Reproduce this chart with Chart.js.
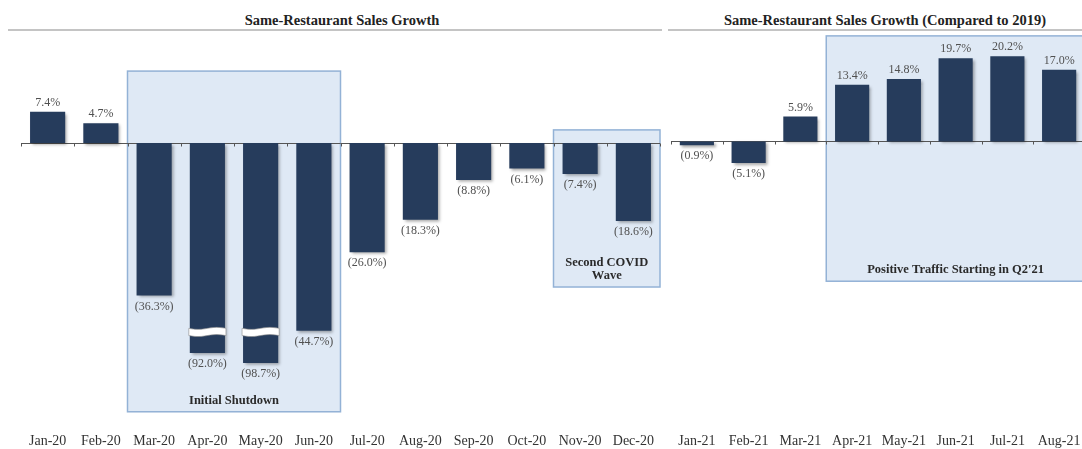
<!DOCTYPE html>
<html>
<head>
<meta charset="utf-8">
<script src="https://cdn.jsdelivr.net/npm/chart.js@4.4.1/dist/chart.umd.min.js"></script>
<style>
  html, body { margin: 0; padding: 0; background: #fff; overflow: hidden; }
  body { width: 1082px; height: 449px; position: relative; font-family: 'Liberation Serif', 'DejaVu Serif', serif; }
  .title { position: absolute; top: 12px; font-weight: bold; font-size: 14.5px; color: #222; white-space: nowrap; text-align: center; }
  .rule { position: absolute; top: 29px; height: 2px; background: #c4c4c4; }
  .wrap { position: absolute; top: 0; height: 449px; }
</style>
</head>
<body>
<div class="title" style="left:232px;width:220px;">Same-Restaurant Sales Growth</div>
<div class="rule" style="left:8px;width:654px;"></div>
<div class="title" style="left:705px;width:360px;">Same-Restaurant Sales Growth (Compared to 2019)</div>
<div class="rule" style="left:668px;width:414px;"></div>
<div class="wrap" style="left:0;width:665px;"><canvas id="left"></canvas></div>
<div class="wrap" style="left:665px;width:425px;"><canvas id="right"></canvas></div>
<script>
// ---- Data ----
const leftCategories = ['Jan-20','Feb-20','Mar-20','Apr-20','May-20','Jun-20','Jul-20','Aug-20','Sep-20','Oct-20','Nov-20','Dec-20'];
const leftValues = [7.4, 4.7, -36.3, -92.0, -98.7, -44.7, -26.0, -18.3, -8.8, -6.1, -7.4, -18.6];
const rightCategories = ['Jan-21','Feb-21','Mar-21','Apr-21','May-21','Jun-21','Jul-21','Aug-21'];
const rightValues = [-0.9, -5.1, 5.9, 13.4, 14.8, 19.7, 20.2, 17.0];
// Bars that run through the axis break: drawn length as shown in the picture
const brokenBarShown = { 'Apr-20': -50.0, 'May-20': -52.4 };
const axisBreakAt = -45;
const leftBoxes = [
  { from: 'Mar-20', to: 'Jun-20', top: 17.1, bottom: -64.0, label: ['Initial Shutdown'] },
  { from: 'Nov-20', to: 'Dec-20', top: 3.1, bottom: -34.3, label: ['Second COVID', 'Wave'] }
];
const rightBoxes = [
  { from: 'Apr-21', to: 'Aug-21', top: 25.0, bottom: -33.1, label: ["Positive Traffic Starting in Q2'21"] }
];

// ---- Styling ----
const BAR = '#263c5c';
const SERIF = "'Liberation Serif', 'DejaVu Serif', serif";

function fmt(v) {
  const s = Math.abs(v).toFixed(1) + '%';
  return v < 0 ? '(' + s + ')' : s;
}

function boxPlugin(boxes, categories) {
  return {
    id: 'boxes',
    beforeDatasetsDraw(chart) {
      const { ctx, scales: { x, y } } = chart;
      const step = x.getPixelForValue(1) - x.getPixelForValue(0);
      boxes.forEach(b => {
        const x0 = x.getPixelForValue(categories.indexOf(b.from)) - step / 2;
        const x1 = x.getPixelForValue(categories.indexOf(b.to)) + step / 2;
        const y0 = y.getPixelForValue(b.top);
        const y1 = y.getPixelForValue(b.bottom);
        ctx.save();
        ctx.fillStyle = '#dfe9f5';
        ctx.fillRect(x0, y0, x1 - x0, y1 - y0);
        ctx.strokeStyle = '#93b2d6';
        ctx.lineWidth = 1.5;
        ctx.strokeRect(x0, y0, x1 - x0, y1 - y0);
        ctx.fillStyle = '#2a2a2a';
        ctx.font = 'bold 12.5px ' + SERIF;
        ctx.textAlign = 'center';
        ctx.textBaseline = 'middle';
        const visRight = Math.min(x1, chart.width);
        const cx = (x0 + visRight) / 2;
        const n = b.label.length;
        b.label.forEach((t, i) => {
          ctx.fillText(t, cx, y1 - 11 - (n - 1 - i) * 13);
        });
        ctx.restore();
      });
      // baseline with ticks at category boundaries
      const yz = Math.round(y.getPixelForValue(0)) + 0.5;
      ctx.save();
      ctx.strokeStyle = '#555';
      ctx.lineWidth = 1;
      ctx.beginPath();
      ctx.moveTo(chart.chartArea.left, yz);
      ctx.lineTo(chart.chartArea.right, yz);
      for (let i = 0; i <= categories.length; i++) {
        const px = Math.round(x.getPixelForValue(i) - step / 2) + 0.5;
        ctx.moveTo(px, yz);
        ctx.lineTo(px, yz + 3);
      }
      ctx.stroke();
      ctx.restore();
    },
    beforeDatasetDraw(chart) {
      const ctx = chart.ctx;
      ctx.save();
      ctx.shadowColor = 'rgba(0,0,0,0.35)';
      ctx.shadowBlur = 3;
      ctx.shadowOffsetX = 2;
      ctx.shadowOffsetY = 2;
    },
    afterDatasetDraw(chart) {
      chart.ctx.restore();
    },
    afterDatasetsDraw(chart) {
      const { ctx, scales: { y } } = chart;
      const meta = chart.getDatasetMeta(0);
      const vals = chart.data.datasets[0].realValues;
      ctx.save();
      meta.data.forEach((bar, i) => {
        const v = vals[i];
        const cat = categories[i];
        if (brokenBarShown[cat] !== undefined) {
          // axis-break marker
          const yb = y.getPixelForValue(axisBreakAt);
          const half = bar.width / 2 + 1;
          const xl = bar.x - half, xr = bar.x + half;
          const h = 3.6;
          ctx.beginPath();
          const N = 12;
          for (let k = 0; k <= N; k++) {
            const px = xl + (xr - xl) * k / N;
            const py = yb - h + Math.sin(k / N * Math.PI * 2) * 1.0;
            if (k === 0) ctx.moveTo(px, py); else ctx.lineTo(px, py);
          }
          for (let k = N; k >= 0; k--) {
            const px = xl + (xr - xl) * k / N;
            const py = yb + h + Math.sin(k / N * Math.PI * 2) * 1.0;
            ctx.lineTo(px, py);
          }
          ctx.closePath();
          ctx.fillStyle = '#ffffff';
          ctx.fill();
          ctx.strokeStyle = '#8a8a8a';
          ctx.lineWidth = 0.6;
          ctx.stroke();
        }
        ctx.fillStyle = '#505050';
        ctx.font = '12px ' + SERIF;
        ctx.textAlign = 'center';
        if (v >= 0) {
          ctx.textBaseline = 'bottom';
          ctx.fillText(fmt(v), bar.x, bar.y - 3);
        } else {
          ctx.textBaseline = 'top';
          ctx.fillText(fmt(v), bar.x, bar.y + 5);
        }
      });
      ctx.restore();
    }
  };
}

function makeChart(id, categories, values, boxes, pad) {
  const shown = values.map((v, i) => brokenBarShown[categories[i]] !== undefined ? brokenBarShown[categories[i]] : v);
  return new Chart(document.getElementById(id), {
    type: 'bar',
    data: {
      labels: categories,
      datasets: [{
        data: shown,
        realValues: values,
        backgroundColor: BAR,
        borderWidth: 0,
        categoryPercentage: 1.0,
        barPercentage: 0.66
      }]
    },
    options: {
      responsive: false,
      animation: false,
      devicePixelRatio: 1,
      layout: { padding: pad },
      plugins: { legend: { display: false }, tooltip: { enabled: false }, title: { display: false } },
      scales: {
        x: {
          grid: { display: false, drawTicks: false },
          border: { display: false },
          ticks: { color: '#333', font: { family: SERIF, size: 14 }, padding: 4, maxRotation: 0, autoSkip: false },
          afterFit(scale) { scale.height = 20; }
        },
        y: {
          display: false,
          min: -68.1,
          max: 24.5
        }
      }
    },
    plugins: [boxPlugin(boxes, categories)]
  });
}

function sizeCanvas(id, w, h) {
  const c = document.getElementById(id);
  c.width = w; c.height = h;
  c.style.width = w + 'px'; c.style.height = h + 'px';
}
sizeCanvas('left', 665, 449);
sizeCanvas('right', 425, 449);
makeChart('left', leftCategories, leftValues, leftBoxes, { left: 21, right: 5, top: 40, bottom: 0 });
makeChart('right', rightCategories, rightValues, rightBoxes, { left: 6, right: 5, top: 38, bottom: 0 });
</script>
</body>
</html>
